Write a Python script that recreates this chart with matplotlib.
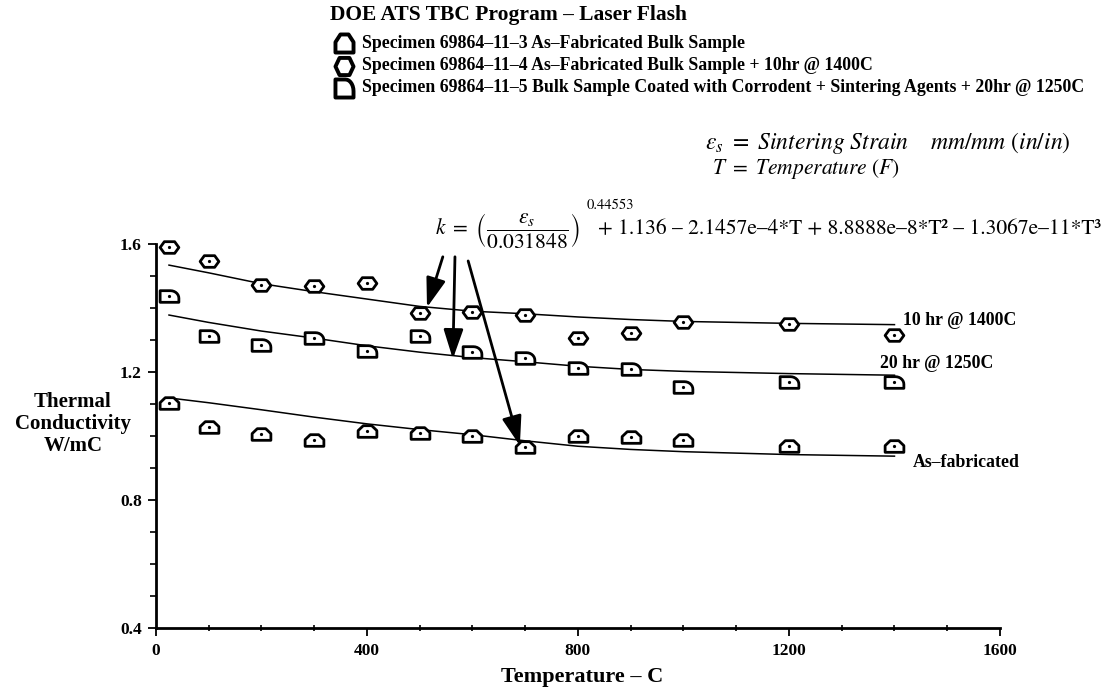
import matplotlib
matplotlib.use("Agg")
import matplotlib.pyplot as plt
import numpy as np
from matplotlib.path import Path
from matplotlib.lines import Line2D

plt.rcParams['font.family'] = ['Liberation Serif', 'DejaVu Serif']
plt.rcParams['mathtext.fontset'] = 'stix'

# measured points (Temperature C, k W/mC)
temp = [25, 100, 200, 300, 400, 500, 600, 700, 800, 900, 1000, 1200, 1400]
k_asfab = [1.104, 1.028, 1.007, 0.989, 1.015, 1.009, 0.999, 0.965, 0.999, 0.996, 0.989, 0.970, 0.970]
k_10hr = [1.590, 1.546, 1.472, 1.470, 1.478, 1.385, 1.388, 1.378, 1.306, 1.322, 1.357, 1.351, 1.317]
k_20hr = [1.438, 1.314, 1.285, 1.306, 1.266, 1.314, 1.262, 1.244, 1.213, 1.210, 1.153, 1.169, 1.169]

# fitted curves
fit_t = [25, 100, 200, 300, 400, 500, 600, 700, 800, 900, 1000, 1200, 1400]
fit_asfab = [1.119, 1.104, 1.082, 1.059, 1.038, 1.020, 1.004, 0.985, 0.968, 0.958, 0.951, 0.942, 0.937]
fit_10hr = [1.534, 1.510, 1.476, 1.451, 1.428, 1.405, 1.390, 1.382, 1.372, 1.364, 1.358, 1.352, 1.348]
fit_20hr = [1.378, 1.355, 1.328, 1.306, 1.282, 1.262, 1.245, 1.232, 1.218, 1.208, 1.202, 1.195, 1.190]

legend_labels = ["Specimen 69864–11–3 As–Fabricated Bulk Sample",
                 "Specimen 69864–11–4 As–Fabricated Bulk Sample + 10hr @ 1400C",
                 "Specimen 69864–11–5 Bulk Sample Coated with Corrodent + Sintering Agents + 20hr @ 1250C"]


def make_house(w, h):
    v = [(-w, -h), (w, -h), (w, 0.15 * h), (0.45 * w, h), (-0.45 * w, h), (-w, 0.15 * h), (-w, -h)]
    return Path(v, [Path.MOVETO] + [Path.LINETO] * 5 + [Path.CLOSEPOLY])


def make_hex(w, h):
    v = [(-w, 0), (-0.55 * w, h), (0.55 * w, h), (w, 0), (0.55 * w, -h), (-0.55 * w, -h), (-w, 0)]
    return Path(v, [Path.MOVETO] + [Path.LINETO] * 5 + [Path.CLOSEPOLY])


def make_d(w, h):
    a = np.linspace(0, np.pi / 2, 8)
    arc = [(0.1 * w + 0.9 * w * np.cos(t), -0.3 * h + 1.3 * h * np.sin(t)) for t in a]
    v = [(-w, -h), (w, -h), (w, -0.3 * h)] + arc[1:] + [(-w, h), (-w, -h)]
    return Path(v, [Path.MOVETO] + [Path.LINETO] * (len(v) - 2) + [Path.CLOSEPOLY])


W, H = 1115, 690
fig = plt.figure(figsize=(W / 100, H / 100), dpi=100)
ax = fig.add_axes([155.8 / W, 1 - 628 / H, 844.2 / W, 384 / H])

ax.plot(fit_t, fit_10hr, color='k', lw=1.1)
ax.plot(fit_t, fit_20hr, color='k', lw=1.1)
ax.plot(fit_t, fit_asfab, color='k', lw=1.1)

ms = 13.5
for vals, mk in [(k_asfab, make_house(1, 0.62)), (k_10hr, make_hex(1, 0.62)), (k_20hr, make_d(1, 0.62))]:
    ax.plot(temp, vals, ls='none', marker=mk, ms=ms, mfc='white', mec='k', mew=2.0, clip_on=False, zorder=3)
    ax.plot(temp, vals, ls='none', marker='o', ms=1.3, color='k', clip_on=False, zorder=4)

ax.set_xlim(0, 1600)
ax.set_ylim(0.4, 1.6)
ax.set_xticks([0, 400, 800, 1200, 1600])
ax.set_xticks(np.arange(0, 1601, 100), minor=True)
ax.set_yticks([0.4, 0.8, 1.2, 1.6])
ax.set_yticks(np.arange(0.4, 1.61, 0.1), minor=True)
ax.set_yticklabels(['0.4', '0.8', '1.2', '1.6'])
ax.spines['top'].set_visible(False)
ax.spines['right'].set_visible(False)
ax.spines['left'].set_linewidth(2)
ax.spines['bottom'].set_linewidth(2)
ax.tick_params(axis='y', which='major', direction='out', length=6, width=1.3, labelsize=12.5, pad=4)
ax.tick_params(axis='y', which='minor', direction='out', length=4, width=1.2)
ax.tick_params(axis='x', which='major', direction='out', length=6, width=1.3, labelsize=12.5, pad=5)
ax.tick_params(axis='x', which='minor', direction='inout', length=4, width=1.2)
for lab in ax.get_xticklabels() + ax.get_yticklabels():
    lab.set_fontweight('bold')

fig.text(582 / W, 1 - 677 / H, "Temperature – C", fontsize=16, fontweight='bold',
         ha='center', va='center')
fig.text(73 / W, 1 - 424 / H, "Thermal\nConductivity\nW/mC", ha='center', va='center',
         fontsize=15, fontweight='bold', linespacing=1.15)

# curve labels
ax.text(1416, 1.362, "10 hr @ 1400C", fontsize=12.8, fontweight='bold', va='center', ha='left')
ax.text(1373, 1.227, "20 hr @ 1250C", fontsize=12.8, fontweight='bold', va='center', ha='left')
ax.text(1434, 0.917, "As–fabricated", fontsize=12.8, fontweight='bold', va='center', ha='left')

# arrows from the fit equation
arrows = [((544, 1.56), (514, 1.402)), ((567, 1.56), (563, 1.241)), ((592, 1.547), (690, 0.970))]
for (x0, y0), (x1, y1) in arrows:
    ax.annotate("", xy=(x1, y1), xytext=(x0, y0),
                arrowprops=dict(arrowstyle='-|>,head_length=0.9,head_width=0.3', color='k',
                                lw=2.0, mutation_scale=20, shrinkA=0, shrinkB=0),
                annotation_clip=False)

# header
fig.text(330 / W, 1 - 15 / H, "DOE ATS TBC Program – Laser Flash", fontsize=15.5,
         fontweight='bold', ha='left', va='center')
legend_markers = [make_house(1, 1), make_hex(1, 0.95), make_d(1, 1)]
for i, (lab, mk) in enumerate(zip(legend_labels, legend_markers)):
    yy = 1 - [43, 66, 88][i] / H
    fig.add_artist(Line2D([344 / W], [yy], marker=mk, ms=13, mfc='white', mec='k', mew=2.8,
                          ls='none', transform=fig.transFigure))
    fig.text(362 / W, yy, lab, fontsize=12.8, fontweight='bold', ha='left', va='center')

fig.text(705 / W, 1 - 143 / H, r"$\epsilon_s\ =\ Sintering\ Strain\quad\ mm/mm\ (in/in)$",
         fontsize=17, ha='left', va='center')
fig.text(712 / W, 1 - 169 / H, r"$T\ =\ Temperature\ (F)$", fontsize=15.5,
         ha='left', va='center')

# fit equation: k = (eps/0.031848)^0.44553 + cubic in T
fig.text(435 / W, 1 - 234 / H, r"$k\ =\ \left(\dfrac{\epsilon_s}{0.031848}\right)$",
         fontsize=15.5, ha='left', va='baseline')
fig.text(587 / W, 1 - 205 / H, "0.44553", fontsize=10.5, family='STIXGeneral',
         ha='left', va='center')
fig.text(598 / W, 1 - 234 / H, "+ 1.136 – 2.1457e–4*T + 8.8888e–8*T² – 1.3067e–11*T³",
         fontsize=15.5, family='STIXGeneral', ha='left', va='baseline')

fig.savefig("out.png", dpi=100)
